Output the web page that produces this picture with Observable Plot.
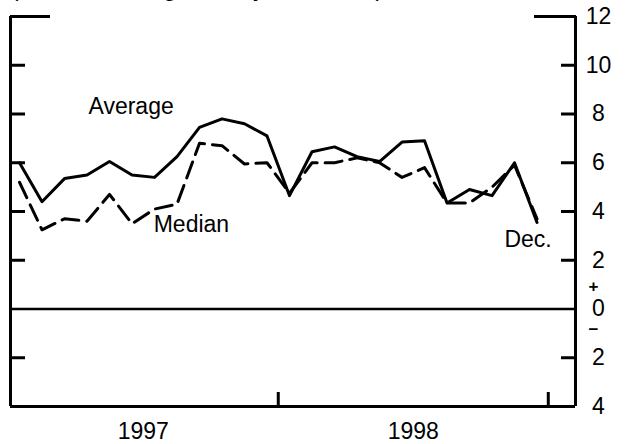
<!DOCTYPE html>
<html><head><meta charset="utf-8">
<script src="https://cdn.jsdelivr.net/npm/d3@7"></script>
<script src="https://cdn.jsdelivr.net/npm/@observablehq/plot@0.6"></script>
<style>
body{margin:0;background:#fff}
#chart svg{font-family:"Liberation Sans",Arial,Helvetica,sans-serif}
</style>
</head><body><div id="chart"></div>
<script>
// Monthly observations, Jan 1997 – Dec 1998
const months = ["1997-01","1997-02","1997-03","1997-04","1997-05","1997-06","1997-07","1997-08","1997-09","1997-10","1997-11","1997-12",
                "1998-01","1998-02","1998-03","1998-04","1998-05","1998-06","1998-07","1998-08","1998-09","1998-10","1998-11","1998-12"];
const average = [6.0, 4.4, 5.35, 5.5, 6.05, 5.5, 5.4, 6.25, 7.45, 7.8, 7.6, 7.1,
                 4.65, 6.45, 6.65, 6.25, 6.05, 6.85, 6.9, 4.35, 4.9, 4.65, 6.0, 3.55];
const median  = [5.2, 3.25, 3.7, 3.6, 4.7, 3.5, 4.1, 4.3, 6.8, 6.7, 5.95, 6.0,
                 4.75, 6.0, 6.0, 6.2, 6.0, 5.4, 5.8, 4.35, 4.35, 5.0, 5.9, 3.7];
const years = ["1997", "1998"];
const yearCenters = [5.5, 17.5];      // middle of each year (month index)
const yearBounds = [11.5, 23.5];      // year boundaries (month index)
const xDomain = [-0.4, 24.71];
const yDomain = [-4, 12];
const innerTicks = [10, 8, 6, 4, 2, -2];
const rightLabels = [12, 10, 8, 6, 4, 2, 0, -2, -4];
const title = "(Percent change from year earlier)";
const seriesLabels = [
  {text: "Average", i: 4.96, v: 8.3},
  {text: "Median", i: 7.64, v: 3.45},
  {text: "Dec.", i: 22.6, v: 2.85}
];

const data = months.map((m, i) => ({month: m, i, average: average[i], median: median[i]}));
const blank = () => "";

const plot = Plot.plot({
  width: 625, height: 444,
  marginTop: 16, marginBottom: 38, marginLeft: 10, marginRight: 50,
  style: {fontFamily: "'Liberation Sans', Arial, Helvetica, sans-serif", fontSize: "23px", color: "#000", background: "#fff", overflow: "hidden"},
  x: {domain: xDomain},
  y: {domain: yDomain},
  marks: [
    Plot.text([title], {frameAnchor: "top-left", text: d => d, lineAnchor: "bottom", textAnchor: "start", dy: -21, fontSize: 24.5, fill: "#000"}),
    Plot.ruleY([0], {strokeWidth: 2.5, stroke: "#000"}),
    Plot.ruleY([yDomain[0]], {strokeWidth: 3, stroke: "#000"}),
    Plot.ruleX(xDomain, {y1: yDomain[0], y2: yDomain[1], strokeWidth: 3, stroke: "#000"}),
    // inward ticks, left & right
    Plot.axisY({anchor: "left", ticks: innerTicks, tickSize: -15, tickFormat: blank, label: null, strokeWidth: 3}),
    Plot.axisY({anchor: "right", ticks: innerTicks, tickSize: -15, tickFormat: blank, label: null, strokeWidth: 3}),
    // top corner brackets
    Plot.axisY({anchor: "left", ticks: [yDomain[1]], tickSize: -40, tickFormat: blank, label: null, strokeWidth: 3}),
    Plot.axisY({anchor: "right", ticks: [yDomain[1]], tickSize: -42, tickFormat: blank, label: null, strokeWidth: 3}),
    // right labels (absolute values; sign markers around zero)
    Plot.axisY({anchor: "right", ticks: rightLabels, tickSize: 0, tickPadding: 23, textAnchor: "middle", fontSize: 23,
      tickFormat: d => String(Math.abs(d)), label: null}),
    Plot.text(["+"], {frameAnchor: "right", y: () => 0, text: d => d, dx: 23, dy: -22, fontSize: 17, fontWeight: "bold", fill: "#000"}),
    Plot.text(["\u2212"], {frameAnchor: "right", y: () => 0, text: d => d, dx: 23, dy: 21, fontSize: 17, fontWeight: "bold", fill: "#000"}),
    // year boundary ticks
    Plot.axisX({anchor: "bottom", ticks: yearBounds, tickSize: -14, tickFormat: blank, label: null, strokeWidth: 3}),
    // year labels
    Plot.axisX({anchor: "bottom", ticks: yearCenters, tickSize: 0, tickPadding: 16, fontSize: 23,
      tickFormat: d => years[yearCenters.indexOf(d)], label: null}),
    Plot.line(data, {x: "i", y: "average", stroke: "#000", strokeWidth: 3, strokeLinejoin: "round"}),
    Plot.line(data, {x: "i", y: "median", stroke: "#000", strokeWidth: 3, strokeDasharray: "17,8"}),
    Plot.text(seriesLabels, {x: "i", y: "v", text: "text", fontSize: 23, fill: "#000"})
  ]
});
document.getElementById("chart").appendChild(plot);
</script>
</body></html>
